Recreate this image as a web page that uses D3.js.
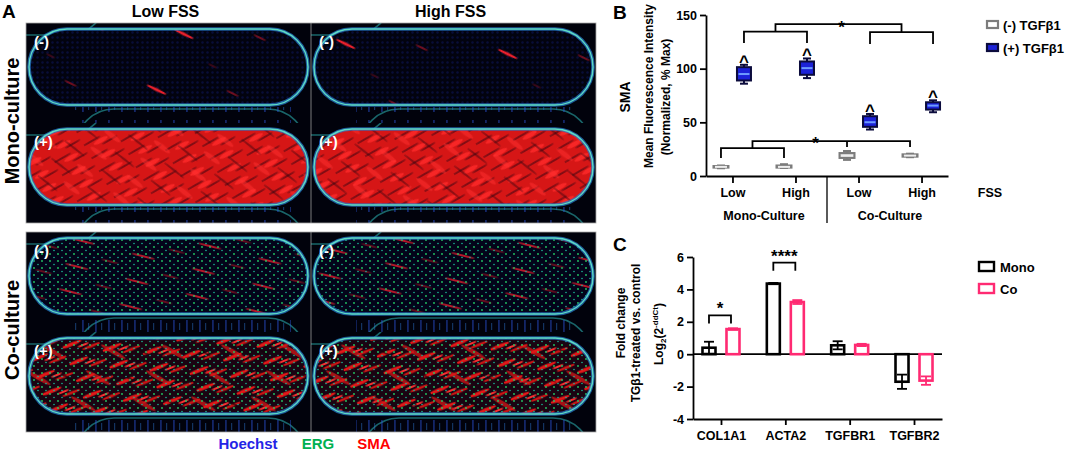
<!DOCTYPE html>
<html>
<head>
<meta charset="utf-8">
<script src="https://cdn.jsdelivr.net/npm/d3@7"></script>
<style>
  body { margin: 0; background: #fff; }
  svg { display: block; font-family: Arial, "Liberation Sans", sans-serif; font-weight: bold; }
</style>
</head>
<body>
<svg id="fig" width="1065" height="453"></svg>
<script>
// ---- panel A (image grid) ----
var imgColumns = ["Low FSS", "High FSS"];
var imgBlocks = ["Mono-culture", "Co-culture"];
var treatments = ["(-)", "(+)"];
var stainLabels = ["Hoechst", "ERG", "SMA"];
var stainColors = ["#2424e6", "#00b050", "#ff0000"];

// ---- panel B (SMA box plots) ----
var cultures = ["Mono-Culture", "Co-Culture"];
var fssLevels = ["Low", "High"];
var smaTicks = [0, 50, 100, 150];
// (-) TGFb1
var minusMin = [7.2, 7.5, 15, 17.5];
var minusQ1  = [7.8, 7.8, 16.8, 18];
var minusMed = [8.5, 8.5, 19, 19];
var minusQ3  = [9.3, 9.8, 21.4, 20.2];
var minusMax = [9.8, 11, 23.3, 20.8];
// (+) TGFb1
var plusMin = [86, 91.2, 43.3, 59.4];
var plusQ1  = [89, 94.3, 45.8, 61.9];
var plusMed = [95, 100.5, 50.1, 65.6];
var plusQ3  = [101.4, 106.7, 55.7, 68.7];
var plusMax = [103.6, 109.5, 57.8, 70.5];

// ---- panel C (fold change bars) ----
var genes = ["COL1A1", "ACTA2", "TGFBR1", "TGFBR2"];
var foldTicks = [-4, -2, 0, 2, 4, 6];
var monoMean = [0.4, 4.36, 0.55, -1.7];
var monoErr  = [0.37, 0.04, 0.25, 0.44];
var coMean   = [1.55, 3.22, 0.57, -1.63];
var coErr    = [0.05, 0.12, 0.07, 0.26];

var svg = d3.select("#fig");
svg.append("rect").attr("width", 1065).attr("height", 453).attr("fill", "#fff");
var defs = svg.append("defs");

function txt(x, y, s, size, anchor) {
  return svg.append("text").attr("x", x).attr("y", y).attr("font-size", size)
    .attr("text-anchor", anchor || "middle").text(s);
}
function vtxt(x, y, s, size) {
  return svg.append("text").attr("transform", "translate(" + x + "," + y + ") rotate(-90)")
    .attr("font-size", size).attr("text-anchor", "middle").attr("dy", "0.35em").text(s);
}

// textures for the micrographs
function pattern(id, w, h, rot, bg) {
  var p = defs.append("pattern").attr("id", id).attr("patternUnits", "userSpaceOnUse")
    .attr("width", w).attr("height", h).attr("patternTransform", "rotate(" + rot + ")");
  if (bg) p.append("rect").attr("width", w).attr("height", h).attr("fill", bg);
  return p;
}
function streak(p, cx, cy, rx, ry, c, op) {
  p.append("ellipse").attr("cx", cx).attr("cy", cy).attr("rx", rx).attr("ry", ry)
    .attr("fill", c).attr("opacity", op == null ? 1 : op);
}
var pBlue = pattern("pBlue", 5, 5, 0, "#02030f");
pBlue.append("circle").attr("cx", 2.5).attr("cy", 2.5).attr("r", 1.2).attr("fill", "#080d3a");
var pSparse = pattern("pSparse", 150, 62, 26);
streak(pSparse, 30, 12, 11, 1.4, "#e8202c");
streak(pSparse, 100, 44, 7, 0.9, "#8a1020", 0.8);
streak(pSparse, 70, 28, 5, 0.7, "#6a0c1c", 0.7);
var pDense = pattern("pDense", 34, 15, -30, "#d61616");
streak(pDense, 8, 3, 11, 1, "#4a0612", 0.6);
streak(pDense, 25, 11, 9, 0.9, "#3a0410", 0.55);
streak(pDense, 17, 7, 8, 2.2, "#ff2a2a", 0.8);
var pDense2 = pattern("pDense2", 46, 22, 38);
streak(pDense2, 12, 5, 13, 1.2, "#3a0410", 0.45);
streak(pDense2, 34, 16, 10, 2.4, "#ff3030", 0.5);
var pCoMinus = pattern("pCoMinus", 62, 26, 14);
streak(pCoMinus, 15, 6, 12, 1, "#cc1a2a", 0.9);
streak(pCoMinus, 46, 19, 9, 0.8, "#a8121f", 0.8);
var pCoPlus = pattern("pCoPlus", 36, 18, -22, "#1a0412");
streak(pCoPlus, 9, 4, 11, 1.7, "#e41818");
streak(pCoPlus, 27, 13, 10, 1.5, "#c81414");
streak(pCoPlus, 20, 9, 6, 0.9, "#ff3030");
var pCoPlus2 = pattern("pCoPlus2", 52, 30, 30);
streak(pCoPlus2, 14, 8, 14, 2.2, "#e01818", 0.7);
streak(pCoPlus2, 40, 23, 9, 1.2, "#10020a", 0.6);
var pDots = pattern("pDots", 8, 7, 0);
pDots.append("circle").attr("cx", 2).attr("cy", 2).attr("r", 0.9).attr("fill", "#22cc66");
pDots.append("circle").attr("cx", 6).attr("cy", 5.5).attr("r", 0.8).attr("fill", "#1ab894");
var pSmudge = pattern("pSmudge", 13, 20, 0);
pSmudge.append("rect").attr("x", 4).attr("width", 1.8).attr("height", 12).attr("fill", "#2a52d8");
pSmudge.append("rect").attr("x", 10).attr("y", 3).attr("width", 1.2).attr("height", 7).attr("fill", "#2a72c8");

// ---------------- Panel A ----------------
var colX = d3.scaleBand().domain(imgColumns).range([26, 596]);
var blockY = d3.scalePoint().domain(imgBlocks).range([23, 232]);
var rowH = 100;
var fills = {
  "Mono-culture(-)": ["url(#pBlue)", ["url(#pSparse)"]],
  "Mono-culture(+)": ["url(#pDense)", ["url(#pDense2)"]],
  "Co-culture(-)": ["#03041a", ["url(#pCoMinus)", "url(#pDots)"]],
  "Co-culture(+)": ["url(#pCoPlus)", ["url(#pCoPlus2)", "url(#pDots)"]]
};
var clipN = 0;
imgBlocks.forEach(function(b) {
  imgColumns.forEach(function(c) {
    treatments.forEach(function(t, ti) {
      var x0 = colX(c), y0 = blockY(b) + ti * rowH, w = colX.bandwidth();
      var id = "clip" + (clipN++);
      defs.append("clipPath").attr("id", id).append("rect")
        .attr("x", x0).attr("y", y0).attr("width", w).attr("height", rowH);
      var g = svg.append("g").attr("clip-path", "url(#" + id + ")");
      g.append("rect").attr("x", x0).attr("y", y0).attr("width", w).attr("height", rowH).attr("fill", "#01020c");
      // neighbouring channels, partly visible
      [[x0 + 50, y0 + rowH - 14], [x0 - 150, y0 - 64]].forEach(function(p) {
        g.append("rect").attr("x", p[0]).attr("y", p[1]).attr("width", 230).attr("height", 76)
          .attr("rx", 38).attr("fill", "none").attr("stroke", "#2aa8a8").attr("stroke-width", 1.6).attr("opacity", 0.6);
      });
      g.append("rect").attr("x", x0 + 45).attr("y", y0 + 84).attr("width", 220).attr("height", rowH - 84)
        .attr("fill", "url(#pSmudge)").attr("opacity", 0.45);
      var cx = x0 + 3, cy = y0 + 6, cw = w - 6, ch = 76;
      var f = fills[b + t];
      g.append("rect").attr("x", cx).attr("y", cy).attr("width", cw).attr("height", ch).attr("rx", 38).attr("fill", f[0]);
      f[1].forEach(function(o) {
        g.append("rect").attr("x", cx).attr("y", cy).attr("width", cw).attr("height", ch).attr("rx", 38).attr("fill", o);
      });
      g.append("rect").attr("x", cx).attr("y", cy).attr("width", cw).attr("height", ch).attr("rx", 38)
        .attr("fill", "none").attr("stroke", "#2678c8").attr("stroke-width", 3.6).attr("opacity", 0.75);
      g.append("rect").attr("x", cx).attr("y", cy).attr("width", cw).attr("height", ch).attr("rx", 38)
        .attr("fill", "none").attr("stroke", "#5fdcc4").attr("stroke-width", 1.4);
      g.append("text").attr("x", x0 + 8).attr("y", y0 + 24).attr("font-size", 15).attr("fill", "#fff").text(t);
    });
  });
  svg.append("rect").attr("x", 26).attr("y", blockY(b)).attr("width", 570).attr("height", 2 * rowH)
    .attr("fill", "none").attr("stroke", "#a8a8a8").attr("stroke-width", 0.8);
  svg.append("line").attr("x1", colX(imgColumns[1])).attr("x2", colX(imgColumns[1]))
    .attr("y1", blockY(b)).attr("y2", blockY(b) + 2 * rowH).attr("stroke", "#b0b0b0").attr("stroke-width", 0.7);
});
imgColumns.forEach(function(c) { txt(colX(c) + colX.bandwidth() / 2 - 3, 17, c, 16); });
imgBlocks.forEach(function(b) { vtxt(12, blockY(b) + rowH - 2, b, 20); });
txt(2, 18, "A", 19, "start");
var stainX = [248, 318, 374];
stainLabels.forEach(function(s, i) { txt(stainX[i], 449, s, 15).attr("fill", stainColors[i]); });

// ---------------- Panel B ----------------
txt(613, 19, "B", 19, "start");
vtxt(625, 97, "SMA", 14);
vtxt(649, 86, "Mean Fluorescence  Intensity", 12);
vtxt(666, 97, "(Normalized, %  Max)", 12);

var bGroups = [];
cultures.forEach(function(c) { fssLevels.forEach(function(f) { bGroups.push(c + " " + f); }); });
var yB = d3.scaleLinear().domain([0, 150]).range([176, 15]);
var xB = d3.scalePoint().domain(bGroups).range([706, 948]).padding(0.42);

var axB = svg.append("g").attr("transform", "translate(706,0)")
  .call(d3.axisLeft(yB).tickValues(smaTicks).tickSize(6).tickSizeOuter(0).tickPadding(3));
var bxB = svg.append("g").attr("transform", "translate(0,176)")
  .call(d3.axisBottom(xB).tickSize(7).tickSizeOuter(0).tickPadding(5)
    .tickFormat(function(d, i) { return fssLevels[i % 2]; }));
[axB, bxB].forEach(function(a) {
  a.selectAll("path,line").attr("stroke", "#000").attr("stroke-width", 1.8);
  a.selectAll("text").attr("font-size", 12.5).attr("font-weight", "bold").attr("fill", "#000")
    .attr("font-family", "Arial, 'Liberation Sans', sans-serif");
});
// culture labels and separator
cultures.forEach(function(c, i) {
  var xm = (xB(bGroups[2 * i]) + xB(bGroups[2 * i + 1])) / 2;
  txt(xm, 220, c, 12.5);
});
var sepX = (xB(bGroups[1]) + xB(bGroups[2])) / 2;
svg.append("line").attr("x1", sepX).attr("x2", sepX).attr("y1", 176).attr("y2", 223)
  .attr("stroke", "#000").attr("stroke-width", 1.3);
txt(990, 197, "FSS", 12.5);

function boxes(off, mins, q1s, meds, q3s, maxs, bw, fill, stroke, medCol) {
  bGroups.forEach(function(g, i) {
    var x = xB(g) + off;
    var gg = svg.append("g");
    gg.append("line").attr("x1", x).attr("x2", x).attr("y1", yB(mins[i])).attr("y2", yB(maxs[i]))
      .attr("stroke", stroke).attr("stroke-width", 2);
    [mins[i], maxs[i]].forEach(function(v) {
      gg.append("line").attr("x1", x - 4).attr("x2", x + 4).attr("y1", yB(v)).attr("y2", yB(v))
        .attr("stroke", stroke).attr("stroke-width", 2);
    });
    gg.append("rect").attr("x", x - bw / 2).attr("y", yB(q3s[i])).attr("width", bw)
      .attr("height", Math.max(1, yB(q1s[i]) - yB(q3s[i]))).attr("fill", fill)
      .attr("stroke", stroke).attr("stroke-width", 2);
    gg.append("line").attr("x1", x - bw / 2 + 1.5).attr("x2", x + bw / 2 - 1.5)
      .attr("y1", yB(meds[i])).attr("y2", yB(meds[i])).attr("stroke", medCol).attr("stroke-width", 2);
  });
}
boxes(-11.5, minusMin, minusQ1, minusMed, minusQ3, minusMax, 15, "#c8c8c8", "#7c7c7c", "#eeeeee");
boxes(11.5, plusMin, plusQ1, plusMed, plusQ3, plusMax, 14, "#1c22d8", "#0b0b3c", "#6e9cff");
bGroups.forEach(function(g, i) { txt(xB(g) + 11.5, yB(plusMax[i]) + 2, "^", 17); });

function path(pts) {
  svg.append("path").attr("d", d3.line()(pts)).attr("fill", "none").attr("stroke", "#000").attr("stroke-width", 1.8);
}
// significance brackets, top ((+) vs (+))
var pm = [xB(bGroups[0]) + 11.5, xB(bGroups[1]) + 11.5], pc = [xB(bGroups[2]) + 11.5, xB(bGroups[3]) + 11.5];
path([[pm[0], yB(124)], [pm[0], yB(134.5)], [pm[1], yB(134.5)], [pm[1], yB(124)]]);
path([[pc[0], yB(123)], [pc[0], yB(134)], [pc[1], yB(134)], [pc[1], yB(123)]]);
var cm = (pm[0] + pm[1]) / 2, cc = (pc[0] + pc[1]) / 2;
path([[cm, yB(134.5)], [cm, yB(141.5)], [cc, yB(141.5)], [cc, yB(134)]]);
txt((cm + cc) / 2 + 3, yB(141.5) + 9, "*", 17);
// bottom ((-) vs (-))
var mm = [xB(bGroups[0]) - 11.5, xB(bGroups[1]) - 11.5], mc = [xB(bGroups[2]) - 11.5, xB(bGroups[3]) - 11.5];
path([[mm[0], yB(16.8)], [mm[0], yB(26)], [mm[1], yB(26)], [mm[1], yB(16.8)]]);
var cmm = (mm[0] + mm[1]) / 2, cmc = (mc[0] + mc[1]) / 2;
path([[cmm, yB(26)], [cmm, yB(32.5)], [mc[1], yB(32.5)], [mc[1], yB(27)]]);
path([[mc[0], yB(32.5)], [mc[0], yB(27)]]);
txt((cmm + cmc) / 2, yB(32.5) + 8, "*", 17);

// legend B
svg.append("rect").attr("x", 987).attr("y", 21).attr("width", 11).attr("height", 7)
  .attr("fill", "#fff").attr("stroke", "#7c7c7c").attr("stroke-width", 2.2);
txt(1003, 30, "(-) TGFβ1", 13, "start");
svg.append("rect").attr("x", 987).attr("y", 44).attr("width", 11).attr("height", 7)
  .attr("fill", "#1c22d8").attr("stroke", "#0b0b3c").attr("stroke-width", 2.2);
txt(1003, 53, "(+) TGFβ1", 13, "start");

// ---------------- Panel C ----------------
txt(613, 251, "C", 19, "start");
vtxt(621, 323, "Fold change", 12);
vtxt(636, 333, "TGβ1-treated vs. control", 12);
var lg = svg.append("text").attr("transform", "translate(659,334) rotate(-90)")
  .attr("font-size", 12).attr("text-anchor", "middle").attr("dy", "0.35em");
lg.append("tspan").text("Log");
lg.append("tspan").attr("font-size", 8).attr("dy", 3).text("2");
lg.append("tspan").attr("dy", -3).text("(2");
lg.append("tspan").attr("font-size", 8).attr("dy", -5).text("-ddCt");
lg.append("tspan").attr("dy", 5).text(")");

var yC = d3.scaleLinear().domain([-4, 6]).range([419, 257]);
var xC = d3.scalePoint().domain(genes).range([693, 942]).padding(0.435);
var ayC = svg.append("g").attr("transform", "translate(693,0)")
  .call(d3.axisLeft(yC).tickValues(foldTicks).tickSize(6).tickSizeOuter(0).tickPadding(3)
    .tickFormat(function(d) { return String(d); }));
var axC = svg.append("g").attr("transform", "translate(0,419)")
  .call(d3.axisBottom(xC).tickSize(6).tickSizeOuter(0).tickPadding(6));
[ayC, axC].forEach(function(a) {
  a.selectAll("path,line").attr("stroke", "#000").attr("stroke-width", 1.8);
  a.selectAll("text").attr("font-size", 12.5).attr("font-weight", "bold").attr("fill", "#000")
    .attr("font-family", "Arial, 'Liberation Sans', sans-serif");
});
svg.append("line").attr("x1", 693).attr("x2", 942).attr("y1", yC(0)).attr("y2", yC(0))
  .attr("stroke", "#000").attr("stroke-width", 1.8);

var monoCol = "#000", coCol = "#ff2a72", barW = 13;
function bars(off, means, errs, col) {
  genes.forEach(function(g, i) {
    var x = xC(g) + off, v = means[i];
    svg.append("rect").attr("x", x - barW / 2).attr("y", yC(Math.max(0, v))).attr("width", barW)
      .attr("height", Math.abs(yC(v) - yC(0))).attr("fill", "none").attr("stroke", col).attr("stroke-width", 2.6);
    var lo = yC(v - errs[i]), hi = yC(v + errs[i]);
    svg.append("line").attr("x1", x).attr("x2", x).attr("y1", lo).attr("y2", hi).attr("stroke", col).attr("stroke-width", 1.8);
    [lo, hi].forEach(function(yy) {
      svg.append("line").attr("x1", x - 5).attr("x2", x + 5).attr("y1", yy).attr("y2", yy).attr("stroke", col).attr("stroke-width", 1.8);
    });
  });
}
bars(-12, monoMean, monoErr, monoCol);
bars(12, coMean, coErr, coCol);

// significance C
function bracketC(g, top, legs, star) {
  var a = xC(g) - 12, b = xC(g) + 10;
  path([[a, yC(legs)], [a, yC(top)], [b, yC(top)], [b, yC(legs)]]);
  txt((a + b) / 2, yC(top) - 1, star, 17);
}
bracketC(genes[0], 2.4, 1.9, "*");
bracketC(genes[1], 5.65, 5.15, "****");

// legend C
svg.append("rect").attr("x", 979).attr("y", 262).attr("width", 15).attr("height", 9)
  .attr("fill", "#fff").attr("stroke", monoCol).attr("stroke-width", 2.4);
txt(1000, 272, "Mono", 13, "start");
svg.append("rect").attr("x", 979).attr("y", 284).attr("width", 15).attr("height", 9)
  .attr("fill", "#fff").attr("stroke", coCol).attr("stroke-width", 2.4);
txt(1000, 294, "Co", 13, "start");
</script>
</body>
</html>
